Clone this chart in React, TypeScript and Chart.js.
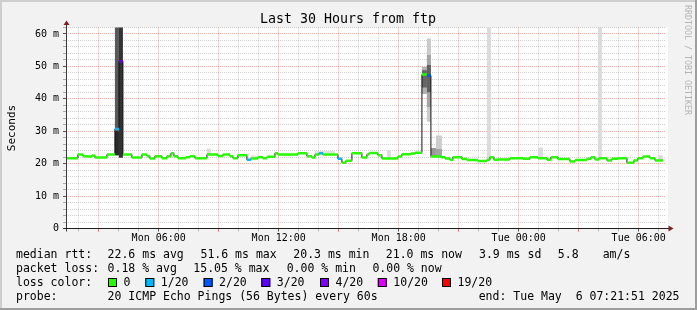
import React, { useEffect, useRef } from 'react';
import { Chart, registerables } from 'chart.js';

Chart.register(...registerables);

// ---------------- data ----------------
const rangeStartHour = 1 + 21 / 60 + 51 / 3600; // Mon 01:21:51 (hours since Mon 00:00)
const rangeHours = 30;

// median RTT steps: start hour (since Mon 00:00), value in ms, lost pings of 20
const stepStart = [
  1.36, 1.96, 2.21, 2.46, 2.66, 2.81, 3.41, 3.81, 4.01, 4.21,
  4.66, 5.16, 5.41, 5.56, 5.81, 6.16, 6.41, 6.61, 6.76, 6.96,
  7.36, 7.56, 7.81, 8.41, 8.96, 9.21, 9.56, 9.71, 9.96, 10.41,
  10.61, 10.96, 11.21, 11.41, 11.81, 11.96, 12.96, 13.41, 13.66, 13.81,
  14.01, 14.21, 14.96, 15.16, 15.36, 15.66, 16.16, 16.41, 16.51, 16.96,
  17.16, 17.96, 18.16, 18.61, 18.81, 19.16, 19.41, 19.61, 20.11, 20.31,
  20.56, 20.71, 21.16, 21.41, 21.96, 22.41, 22.56, 22.76, 22.96, 23.56,
  24.21, 24.56, 24.96, 25.41, 25.61, 25.96, 26.56, 26.81, 27.41, 27.61,
  27.81, 28.01, 28.41, 28.66, 28.96, 29.41, 29.76, 29.96, 30.21, 30.56,
  30.81,
];
const medianMs = [
  21.7, 22.8, 22.3, 22.2, 22.5, 21.9, 22.8, 30.7, 51.6, 22.8,
  21.9, 22.8, 22.3, 21.6, 22.3, 21.7, 22.3, 23.2, 22.3, 21.7,
  22.0, 22.3, 21.7, 22.8, 22.4, 22.8, 22.3, 21.7, 22.6, 21.2,
  21.6, 22.0, 21.7, 22.1, 23.2, 22.8, 23.2, 22.3, 21.9, 22.8,
  23.2, 22.8, 21.5, 20.3, 20.9, 23.2, 21.9, 22.8, 23.3, 22.6,
  21.6, 22.2, 22.9, 23.1, 23.4, 47.5, 47.2, 22.2, 22.0, 21.6,
  21.2, 22.0, 21.4, 21.1, 20.8, 21.2, 22.0, 21.2, 21.3, 21.7,
  21.5, 22.0, 21.7, 21.2, 22.0, 21.4, 20.7, 21.1, 21.5, 22.0,
  21.3, 21.7, 21.0, 21.5, 21.7, 20.3, 21.0, 21.7, 22.2, 21.7,
  21.0,
];
const lostPings = [
  0, 0, 0, 0, 0, 0, 0, 1, 3, 0,
  0, 0, 0, 0, 0, 0, 0, 0, 0, 0,
  0, 0, 0, 0, 0, 0, 0, 0, 0, 1,
  0, 0, 0, 0, 0, 0, 0, 0, 0, 0,
  1, 0, 1, 0, 0, 0, 0, 0, 0, 0,
  0, 0, 0, 0, 0, 0, 2, 0, 0, 0,
  0, 0, 0, 0, 0, 0, 0, 0, 0, 0,
  0, 0, 0, 0, 0, 0, 0, 0, 0, 0,
  0, 0, 0, 0, 0, 0, 0, 0, 0, 0,
  0,
];
const lastStepEnd = 31.21;

// smoke (ping spread) bands: from/to hour, low/high ms, density 0..1
const smokeFrom = [3.81, 4.01, 19.41, 3.81, 19.16, 19.61, 19.41, 19.86, 19.16, 19.41, 19.86, 8.41, 17.41, 22.41, 24.96, 27.96, 30.96, 10.61, 13.81];
const smokeTo = [4.01, 4.21, 19.61, 4.01, 19.41, 19.86, 19.61, 20.16, 19.41, 19.61, 20.16, 8.61, 17.61, 22.61, 25.21, 28.16, 31.21, 10.96, 14.81];
const smokeLow = [22.6, 21.8, 42.0, 22.6, 43.5, 22.2, 37.5, 22.0, 41.5, 32.9, 22.0, 22.8, 21.6, 21.2, 21.7, 21.7, 21.0, 21.6, 22.8];
const smokeHigh = [30.0, 75.0, 50.4, 75.0, 48.8, 24.8, 53.5, 24.5, 49.8, 58.6, 28.7, 24.6, 24.1, 75.0, 25.0, 75.0, 22.6, 22.5, 23.9];
const smokeDensity = [0.95, 0.9, 0.68, 0.72, 0.66, 0.42, 0.36, 0.36, 0.3, 0.18, 0.17, 0.1, 0.1, 0.1, 0.1, 0.1, 0.1, 0.08, 0.07];

const xTickHours = [6, 12, 18, 24, 30];
const xTickLabels = ['Mon 06:00', 'Mon 12:00', 'Mon 18:00', 'Tue 00:00', 'Tue 06:00'];
const yTickValues = [0, 10, 20, 30, 40, 50, 60];
const yTickLabels = ['0', '10 m', '20 m', '30 m', '40 m', '50 m', '60 m'];
const yMax = 62;

const lossThresholds = [0, 1, 2, 3, 4, 10, 19];
const lossLabels = ['0', '1/20', '2/20', '3/20', '4/20', '10/20', '19/20'];
const lossColors = ['#26ff00', '#00b8ff', '#0059ff', '#5e00ff', '#7e00ff', '#dd00ff', '#ff0000'];

const rttStats = ['22.6 ms avg', '51.6 ms max', '20.3 ms min', '21.0 ms now', '3.9 ms sd', '5.8', 'am/s'];
const lossStats = ['0.18 % avg', '15.05 % max', '0.00 % min', '0.00 % now'];
const probeText = '20 ICMP Echo Pings (56 Bytes) every 60s';
const endText = 'end: Tue May  6 07:21:51 2025';
const titleText = 'Last 30 Hours from ftp';
const yAxisTitle = 'Seconds';
const watermark = 'RRDTOOL / TOBI OETIKER';

// ---------------- helpers ----------------
const MONO = '"DejaVu Sans Mono", monospace';

function lossColor(n: number): string {
  let c = lossColors[0];
  for (let i = 0; i < lossThresholds.length; i++) if (n >= lossThresholds[i]) c = lossColors[i];
  return c;
}
function smokeShade(d: number): string {
  const g = Math.round(240 - 210 * d);
  return `rgb(${g},${g},${g})`;
}

function buildDatasets(): any[] {
  const coloured: any[] = [];
  const stepped: any[] = [];
  for (let i = 0; i < stepStart.length; i++) {
    const end = i + 1 < stepStart.length ? stepStart[i + 1] : lastStepEnd;
    coloured.push({ x: stepStart[i], y: medianMs[i] });
    coloured.push({ x: end, y: medianMs[i] });
    stepped.push({ x: stepStart[i], y: medianMs[i] });
  }
  stepped.push({ x: lastStepEnd, y: medianMs[medianMs.length - 1] });

  const ds: any[] = [
    {
      type: 'line',
      data: coloured,
      borderWidth: 2.5,
      borderColor: lossColors[0],
      pointRadius: 0,
      fill: false,
      segment: {
        borderColor: (ctx: any) =>
          ctx.p0DataIndex % 2 === 0 ? lossColor(lostPings[ctx.p0DataIndex / 2]) : 'rgba(0,0,0,0)',
      },
    },
    {
      type: 'line',
      data: stepped,
      stepped: 'before',
      borderWidth: 1,
      borderColor: '#111',
      pointRadius: 0,
      fill: false,
    },
  ];
  for (let i = 0; i < smokeFrom.length; i++) {
    ds.push({
      type: 'line',
      data: [
        { x: smokeFrom[i], y: smokeLow[i] },
        { x: smokeFrom[i], y: smokeHigh[i] },
        { x: smokeTo[i], y: smokeHigh[i] },
        { x: smokeTo[i], y: smokeLow[i] },
      ],
      fill: 'shape',
      backgroundColor: smokeShade(smokeDensity[i]),
      borderColor: 'rgba(0,0,0,0)',
      borderWidth: 0,
      pointRadius: 0,
    });
  }
  return ds;
}

const MAJOR_GRID = 'rgba(225,70,70,0.45)';
const MINOR_GRID = 'rgba(0,0,0,0.18)';

const decorPlugin = {
  id: 'rrdDecor',
  beforeDraw(chart: any) {
    const { ctx, width, height, chartArea: a } = chart;
    ctx.save();
    ctx.fillStyle = '#f2f2f2';
    ctx.fillRect(0, 0, width, height);
    ctx.fillStyle = '#ffffff';
    ctx.fillRect(a.left, a.top, a.right - a.left + 2, a.bottom - a.top);
    ctx.fillStyle = '#cfcfcf';
    ctx.fillRect(0, 0, width, 2);
    ctx.fillRect(0, 0, 2, height);
    ctx.fillStyle = '#9e9e9e';
    ctx.fillRect(0, height - 2, width, 2);
    ctx.fillRect(width - 2, 0, 2, height);
    ctx.restore();
  },
  afterDatasetsDraw(chart: any) {
    const { ctx, chartArea: a } = chart;
    const ax = Math.floor(a.left) + 0.5;
    const ay = Math.floor(a.bottom) + 0.5;
    ctx.save();
    ctx.lineWidth = 1;
    ctx.strokeStyle = '#3a3a3a';
    ctx.beginPath();
    ctx.moveTo(ax, ay + 3);
    ctx.lineTo(ax, a.top - 4);
    ctx.stroke();
    ctx.strokeStyle = '#1f1f1f';
    ctx.beginPath();
    ctx.moveTo(ax - 3, ay);
    ctx.lineTo(a.right + 3, ay);
    ctx.stroke();
    ctx.fillStyle = '#801f1f';
    ctx.beginPath();
    ctx.moveTo(ax - 3, a.top - 2.5);
    ctx.lineTo(ax + 3, a.top - 2.5);
    ctx.lineTo(ax, a.top - 7);
    ctx.closePath();
    ctx.fill();
    ctx.beginPath();
    ctx.moveTo(a.right + 2.5, ay - 3);
    ctx.lineTo(a.right + 2.5, ay + 3);
    ctx.lineTo(a.right + 7.5, ay);
    ctx.closePath();
    ctx.fill();
    ctx.restore();
  },
  afterDraw(chart: any) {
    const { ctx } = chart;
    ctx.save();
    ctx.fillStyle = '#000';
    ctx.textBaseline = 'alphabetic';
    // title
    ctx.font = `13.3px ${MONO}`;
    ctx.textAlign = 'center';
    ctx.fillText(titleText, 348, 23);
    // y axis title
    ctx.save();
    ctx.font = `11px ${MONO}`;
    ctx.translate(15, 128);
    ctx.rotate(-Math.PI / 2);
    ctx.fillText(yAxisTitle, 0, 0);
    ctx.restore();
    // watermark
    ctx.save();
    ctx.font = `8.3px ${MONO}`;
    ctx.fillStyle = '#b4b4b4';
    ctx.translate(685, 60);
    ctx.rotate(Math.PI / 2);
    ctx.fillText(watermark, 0, 0);
    ctx.restore();

    // legend
    ctx.textAlign = 'left';
    ctx.font = `11.5px ${MONO}`;
    const r1 = 258, r2 = 272, r3 = 286, r4 = 300;
    ctx.fillText('median rtt:', 16, r1);
    const rttX = [107.6, 200.5, 293.3, 385.8, 479, 557.8, 602.7];
    rttStats.forEach((s, i) => ctx.fillText(s, rttX[i], r1));
    ctx.fillText('packet loss:', 16, r2);
    const lossX = [107.6, 193.3, 286.7, 372.4];
    lossStats.forEach((s, i) => ctx.fillText(s, lossX[i], r2));
    ctx.fillText('loss color:', 16, r3);
    const boxX = [108, 145.3, 203.6, 261.3, 320, 377.8, 442];
    lossLabels.forEach((s, i) => {
      ctx.fillStyle = lossColors[i];
      ctx.fillRect(boxX[i], r3 - 8, 9, 9);
      ctx.strokeStyle = '#000';
      ctx.lineWidth = 1;
      ctx.strokeRect(boxX[i] + 0.5, r3 - 7.5, 8, 8);
      ctx.fillStyle = '#000';
      ctx.fillText(s, boxX[i] + 15.5, r3);
    });
    ctx.fillText('probe:', 16, r4);
    ctx.fillText(probeText, 107.6, r4);
    ctx.fillText(endText, 478.7, r4);
    ctx.restore();
  },
};

export default function App() {
  const ref = useRef<HTMLCanvasElement>(null);
  useEffect(() => {
    if (!ref.current) return;
    const chart = new Chart(ref.current, {
      type: 'line',
      data: { datasets: buildDatasets() },
      plugins: [decorPlugin],
      options: {
        animation: false,
        responsive: false,
        devicePixelRatio: 1,
        events: [],
        layout: { padding: { left: 0, right: 31, top: 27.5, bottom: 61.5 } },
        plugins: {
          legend: { display: false },
          tooltip: { enabled: false },
          title: { display: false },
        },
        scales: {
          x: {
            type: 'linear',
            min: rangeStartHour,
            max: rangeStartHour + rangeHours,
            afterBuildTicks: (s: any) => {
              const t: any[] = [];
              for (let h = Math.ceil(rangeStartHour); h <= rangeStartHour + rangeHours; h++) t.push({ value: h });
              s.ticks = t;
            },
            afterFit: (s: any) => {
              s.height = 20;
            },
            grid: {
              color: (c: any) => (c.tick && c.tick.value % 3 === 0 ? MAJOR_GRID : MINOR_GRID),
              tickColor: (c: any) =>
                c.tick && c.tick.value % 6 === 0 ? '#555' : c.tick && c.tick.value % 3 === 0 ? '#e07070' : '#bbb',
              tickLength: 3,
              lineWidth: 1,
            },
            border: { display: false, dash: [1, 1] },
            ticks: {
              autoSkip: false,
              maxRotation: 0,
              minRotation: 0,
              padding: 1,
              color: '#000',
              font: { family: MONO, size: 10 },
              callback: (v: any) => {
                const i = xTickHours.indexOf(Number(v));
                return i >= 0 ? xTickLabels[i] : '';
              },
            },
          },
          y: {
            type: 'linear',
            min: 0,
            max: yMax,
            afterBuildTicks: (s: any) => {
              const t: any[] = [];
              for (let v = 0; v <= yMax; v += 2) t.push({ value: v });
              s.ticks = t;
            },
            afterFit: (s: any) => {
              s.width = 66;
            },
            grid: {
              color: (c: any) => (c.tick && c.tick.value % 10 === 0 ? MAJOR_GRID : MINOR_GRID),
              tickColor: (c: any) => (c.tick && c.tick.value % 10 === 0 ? '#555' : '#aaa'),
              tickLength: 3,
              lineWidth: 1,
            },
            border: { display: false, dash: [1, 1] },
            ticks: {
              autoSkip: false,
              padding: 4,
              color: '#000',
              font: { family: MONO, size: 10 },
              callback: (v: any) => {
                const i = yTickValues.indexOf(Number(v));
                return i >= 0 ? yTickLabels[i] : '';
              },
            },
          },
        },
      } as any,
    });
    return () => chart.destroy();
  }, []);
  return (
    <div style={{ position: 'fixed', left: 0, top: 0, width: 697, height: 310 }}>
      <canvas ref={ref} width={697} height={310} style={{ display: 'block', width: 697, height: 310 }} />
    </div>
  );
}
